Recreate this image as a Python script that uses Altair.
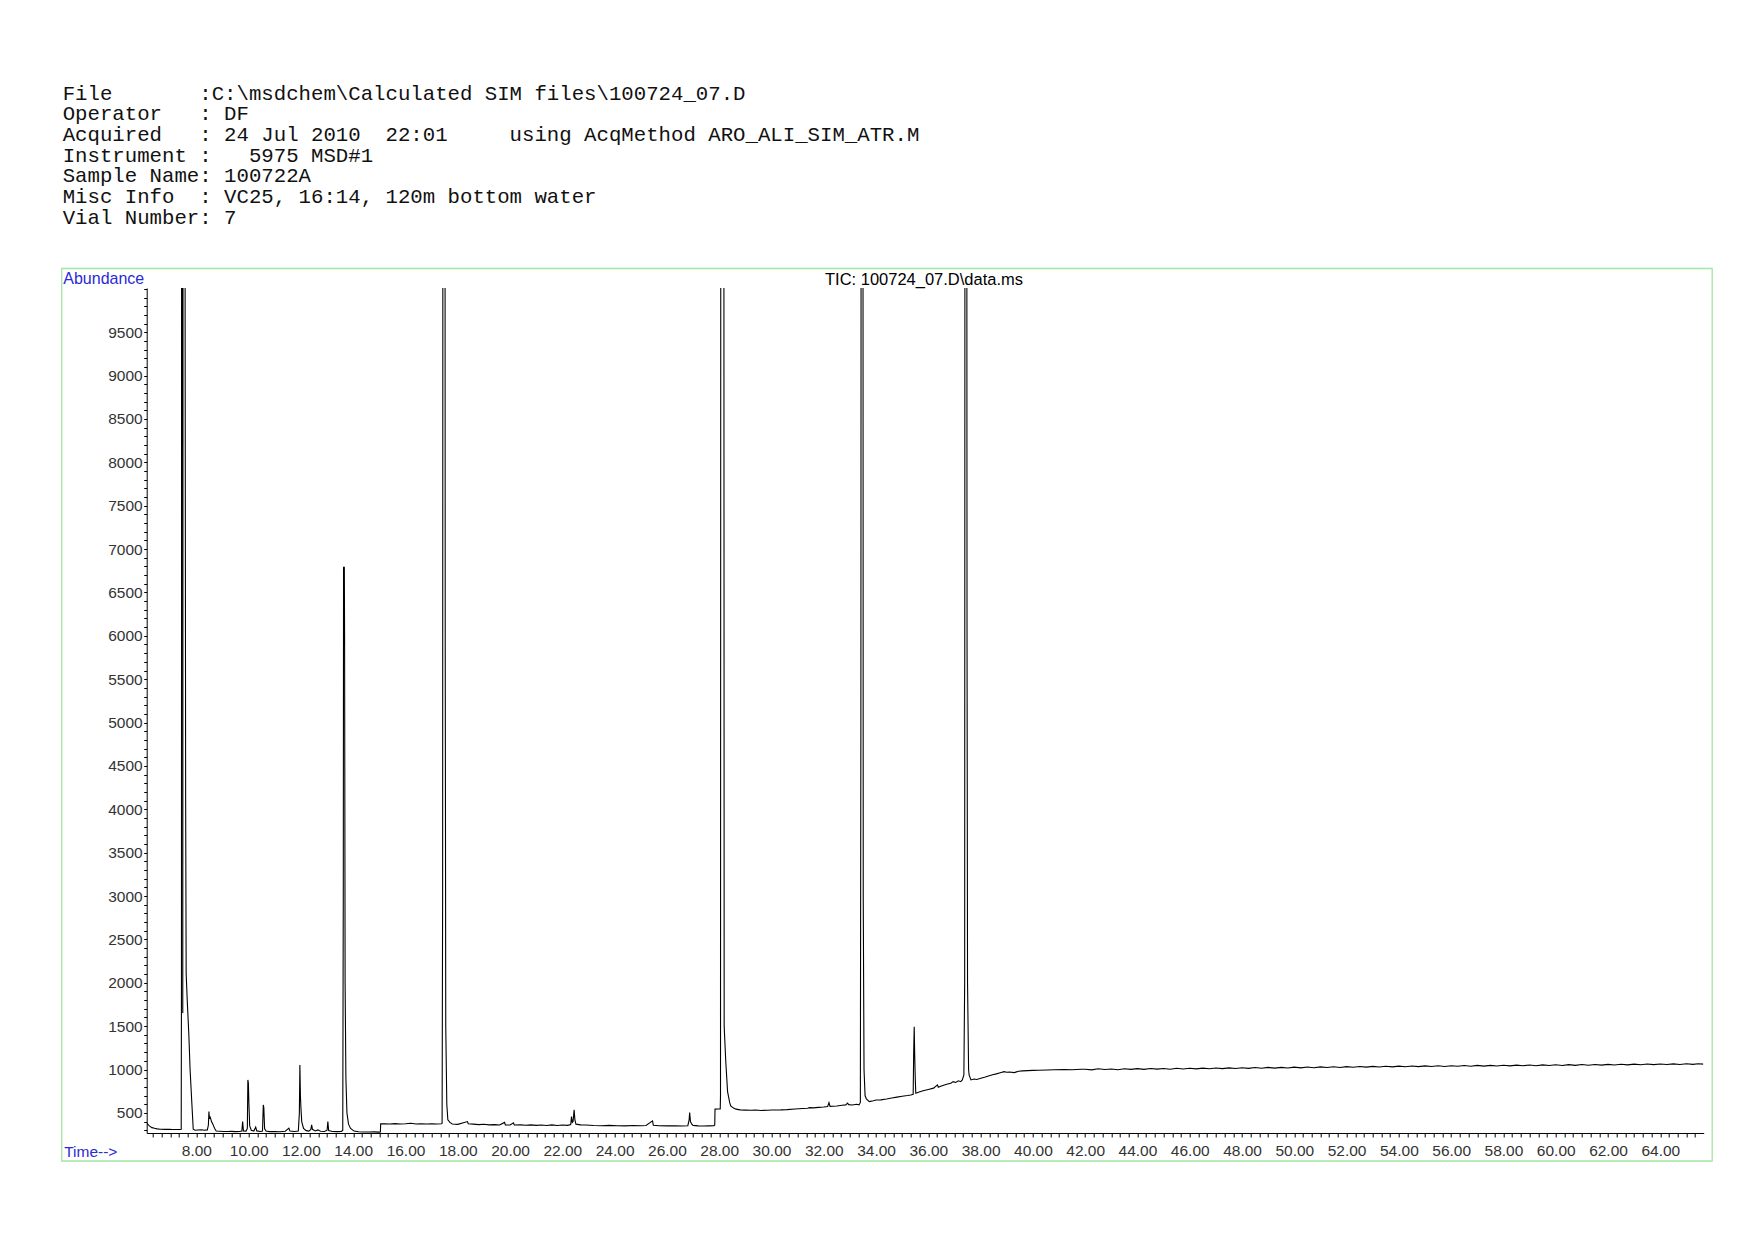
import altair as alt
import pandas as pd

# ---------------- header text ----------------
header_lines = [
    "File       :C:\\msdchem\\Calculated SIM files\\100724_07.D",
    "Operator   : DF",
    "Acquired   : 24 Jul 2010  22:01     using AcqMethod ARO_ALI_SIM_ATR.M",
    "Instrument :   5975 MSD#1",
    "Sample Name: 100722A",
    "Misc Info  : VC25, 16:14, 120m bottom water",
    "Vial Number: 7",
]
plot_title = "TIC: 100724_07.D\\data.ms"
y_label = "Abundance"
x_label = "Time-->"

# ---------------- chromatogram trace (time [min], abundance) ----------------
start_t = [6.10, 6.20, 6.30, 6.40, 6.50, 6.63, 6.80, 6.95, 7.10, 7.25, 7.38, 7.42]
start_v = [381, 350, 330, 322, 316, 312, 310, 312, 308, 309, 308, 310]

peak1_t = [7.43, 7.44, 7.47, 7.48, 7.50, 7.56, 7.57, 7.59, 7.61, 7.65, 7.71, 7.76, 7.82, 7.88, 7.95]
peak1_v = [2000, 20000, 20000, 1650, 20000, 20000, 9600, 4100, 2100, 1800, 1417, 1000, 650, 312, 300]

early_t = [8.05, 8.20, 8.30, 8.42, 8.46, 8.48, 8.50, 8.53, 8.58, 8.63, 8.70, 8.76, 8.90, 9.05,
           9.20, 9.35, 9.50, 9.65, 9.74, 9.77, 9.80, 9.90, 9.95, 9.97, 9.99, 10.01, 10.04, 10.10,
           10.20, 10.27, 10.31, 10.45, 10.53, 10.56, 10.58, 10.61, 10.66, 10.80, 11.00, 11.20,
           11.40, 11.54, 11.58, 11.75, 11.90, 11.94, 11.96, 11.98, 12.00, 12.03, 12.10, 12.20,
           12.30, 12.38, 12.41, 12.44, 12.55, 12.65, 12.75, 12.90, 13.00, 13.03, 13.06, 13.20,
           13.40, 13.55, 13.60]
early_v = [302, 305, 300, 304, 360, 515, 440, 450, 400, 370, 320, 290, 288, 286,
           285, 287, 284, 285, 290, 400, 292, 290, 320, 880, 840, 600, 350, 300,
           290, 335, 292, 285, 290, 592, 560, 320, 290, 284, 285, 283,
           288, 324, 290, 285, 290, 500, 1052, 700, 560, 400, 320, 295,
           290, 310, 362, 310, 292, 304, 288, 285, 300, 400, 295, 285,
           284, 286, 300]

peak2_t = [13.62, 13.63, 13.66, 13.67, 13.69, 13.72, 13.76, 13.82, 13.90, 14.03]
peak2_v = [3000, 6790, 6790, 6000, 2000, 900, 500, 370, 320, 290]

mid1_t = [14.20, 14.40, 14.60, 14.80, 14.98, 15.04, 15.05, 15.20, 15.40, 15.60, 15.80, 16.00,
          16.20, 16.40, 16.60, 16.80, 17.00, 17.20, 17.38]
mid1_v = [282, 280, 279, 281, 278, 280, 373, 375, 372, 376, 372, 374,
          380, 372, 374, 371, 373, 372, 375]

peak3_t = [17.40, 17.42, 17.44, 17.50, 17.52, 17.54, 17.58, 17.62, 17.70, 17.79]
peak3_v = [380, 3000, 20000, 20000, 5850, 1500, 600, 420, 390, 372]

mid2_t = [18.00, 18.37, 18.40, 18.60, 18.80, 19.00, 19.20, 19.40, 19.60, 19.79, 19.82, 20.00,
          20.13, 20.16, 20.40, 20.60, 20.80, 21.00, 21.20, 21.40, 21.60, 21.80, 22.00, 22.20,
          22.32, 22.35, 22.38, 22.41, 22.45, 22.48, 22.52, 22.70, 22.90, 23.20, 23.50, 23.80,
          24.10, 24.40, 24.70, 25.00, 25.20, 25.45, 25.48, 25.70, 26.00, 26.30, 26.60, 26.80,
          26.85, 26.87, 26.90, 26.95, 27.00, 27.20, 27.40, 27.60, 27.80, 27.83, 27.84, 27.95,
          28.04, 28.05]
mid2_v = [368, 400, 375, 370, 365, 368, 362, 365, 360, 390, 362, 360,
          385, 360, 362, 358, 362, 356, 360, 355, 362, 355, 360, 356,
          365, 457, 390, 400, 535, 420, 370, 362, 360, 355, 352, 356,
          352, 350, 354, 351, 355, 408, 358, 352, 350, 351, 348, 352,
          420, 504, 400, 370, 356, 350, 348, 350, 352, 360, 543, 545,
          545, 700]

peak4_t = [28.07, 28.17, 28.19, 28.25, 28.32, 28.40, 28.44, 28.55, 28.64]
peak4_v = [20000, 20000, 1500, 1100, 745, 620, 581, 555, 543]

mid3_t = [28.80, 29.00, 29.20, 29.40, 29.60, 29.85, 30.00, 30.36, 30.60, 30.90, 31.20, 31.38,
          31.45, 31.60, 31.80, 32.00, 32.15, 32.20, 32.24, 32.50, 32.70, 32.84, 32.91, 32.95,
          33.10, 33.25, 33.35, 33.40]
mid3_v = [535, 532, 530, 533, 528, 531, 533, 535, 538, 545, 550, 554,
          560, 558, 563, 568, 573, 619, 575, 580, 588, 592, 612, 595,
          590, 600, 592, 620]

peak5_t = [33.42, 33.44, 33.49, 33.51, 33.54, 33.58, 33.63, 33.74]
peak5_v = [5000, 20000, 20000, 3000, 1000, 700, 660, 630]

mid4_t = [33.90, 34.00, 34.18, 34.40, 34.60, 34.80, 35.00, 35.20, 35.33, 35.42, 35.44, 35.46,
          35.48, 35.50, 35.52, 35.65, 35.80, 36.00, 36.20, 36.35, 36.38, 36.50, 36.70, 36.86,
          36.95, 37.05, 37.15, 37.24, 37.30, 37.36]
mid4_v = [640, 648, 650, 660, 672, 682, 692, 700, 707, 715, 1200, 1493,
          1148, 900, 727, 740, 755, 770, 785, 822, 796, 810, 830, 842,
          860, 850, 870, 860, 880, 937]

peak6_t = [37.39, 37.41, 37.46, 37.48, 37.50, 37.54, 37.56, 37.63]
peak6_v = [2000, 20000, 20000, 6100, 2000, 1000, 937, 880]

rise_t = [37.75, 37.85, 38.01, 38.15, 38.30, 38.46, 38.60, 38.75, 38.90, 39.00, 39.10, 39.29,
          39.45, 39.60, 39.80, 40.00, 40.20, 40.56, 40.80, 41.20, 41.50, 41.84]
rise_v = [890, 885, 900, 910, 925, 940, 950, 962, 975, 968, 972, 964,
          980, 984, 987, 990, 992, 995, 997, 1000, 998, 1003]

tail_t = [42.00, 42.25, 42.50, 42.75, 43.00, 43.25, 43.50, 43.75, 44.00, 44.25, 44.50, 44.75,
          45.00, 45.25, 45.50, 45.75, 46.00, 46.25, 46.50, 46.75, 47.00, 47.25, 47.50, 47.75,
          48.00, 48.25, 48.50, 48.75, 49.00, 49.25, 49.50, 49.75, 50.00, 50.25, 50.50, 50.75,
          51.00, 51.25, 51.50, 51.75, 52.00, 52.25, 52.50, 52.75, 53.00, 53.25, 53.50, 53.75,
          54.00, 54.25, 54.50, 54.75, 55.00, 55.25, 55.50, 55.75, 56.00, 56.25, 56.50, 56.75,
          57.00, 57.25, 57.50, 57.75, 58.00, 58.25, 58.50, 58.75, 59.00, 59.25, 59.50, 59.75,
          60.00, 60.25, 60.50, 60.75, 61.00, 61.25, 61.50, 61.75, 62.00, 62.25, 62.50, 62.75,
          63.00, 63.25, 63.50, 63.75, 64.00, 64.25, 64.50, 64.75, 65.00, 65.25, 65.45, 65.64]
tail_v = [1003, 996, 1008, 1000, 1005, 997, 1009, 1002, 1010, 1001, 1011, 1004,
          1012, 1003, 1014, 1006, 1015, 1007, 1016, 1009, 1018, 1010, 1019, 1012,
          1021, 1013, 1023, 1015, 1024, 1016, 1025, 1018, 1027, 1019, 1029, 1021,
          1030, 1023, 1032, 1024, 1033, 1026, 1035, 1027, 1036, 1029, 1038, 1030,
          1039, 1031, 1040, 1033, 1042, 1034, 1043, 1035, 1044, 1037, 1046, 1038,
          1047, 1039, 1048, 1041, 1049, 1042, 1051, 1043, 1052, 1044, 1053, 1046,
          1054, 1047, 1056, 1048, 1057, 1049, 1058, 1051, 1059, 1052, 1061, 1053,
          1062, 1054, 1063, 1056, 1064, 1057, 1065, 1058, 1066, 1059, 1067, 1062]

times = (start_t + peak1_t + early_t + peak2_t + mid1_t + peak3_t + mid2_t + peak4_t
         + mid3_t + peak5_t + mid4_t + peak6_t + rise_t + tail_t)
abund = (start_v + peak1_v + early_v + peak2_v + mid1_v + peak3_v + mid2_v + peak4_v
         + mid3_v + peak5_v + mid4_v + peak6_v + rise_v + tail_v)

trace = pd.DataFrame({"time": times, "abundance": abund})

# axis tick positions
x_ticks = [round(8 + k / 3, 4) for k in range(-5, 173)]
y_ticks = list(range(300, 10001, 100))

X_DOMAIN = [6.10, 65.66]
Y_DOMAIN = [268, 10010]
W, H = 1557, 845

BLUE = "#2a2ad6"
GREEN = "#a3e6a3"
SANS = "Liberation Sans"

one = pd.DataFrame({"k": [0]})

line = alt.Chart(trace).mark_line(color="black", strokeWidth=1.1, clip=True).encode(
    x=alt.X(
        "time:Q",
        scale=alt.Scale(domain=X_DOMAIN, nice=False, zero=False),
        axis=alt.Axis(
            values=x_ticks,
            labelExpr="abs(datum.value/2 - round(datum.value/2)) < 0.001 ? format(datum.value, '.2f') : ''",
            title=None, grid=False, tickSize=4, labelPadding=7,
            labelFontSize=15.5, labelFont=SANS, labelColor="#333333",
            labelOverlap=False, labelFlush=False,
            domainColor="black", tickColor="black",
        ),
    ),
    y=alt.Y(
        "abundance:Q",
        scale=alt.Scale(domain=Y_DOMAIN, nice=False, zero=False),
        axis=alt.Axis(
            values=y_ticks,
            labelExpr="(datum.value % 500 == 0 && datum.value < 10000) ? datum.value : ''",
            title=None, grid=False, tickSize=3, labelPadding=1.5,
            labelFontSize=15.5, labelFont=SANS, labelColor="#333333",
            labelOverlap=False, labelFlush=False,
            domainColor="black", tickColor="black",
        ),
    ),
)

frame = alt.Chart(one).mark_rect(fillOpacity=0, stroke=GREEN, strokeWidth=1.3).encode(
    x=alt.value(-85), x2=alt.value(1565.5), y=alt.value(-19.5), y2=alt.value(873)
)

header = alt.Chart(one).mark_text(
    text=[s.replace(" ", "\u00a0") for s in header_lines],
    font="Liberation Mono", fontSize=20.7, lineHeight=20.7,
    align="left", baseline="alphabetic", color="#111111",
).encode(x=alt.value(-84), y=alt.value(-188.4))

abund_lbl = alt.Chart(one).mark_text(
    text=y_label, font=SANS, fontSize=16, align="left", baseline="alphabetic", color=BLUE
).encode(x=alt.value(-83.4), y=alt.value(-4))

tic_lbl = alt.Chart(one).mark_text(
    text=plot_title, font=SANS, fontSize=16.5, align="center", baseline="alphabetic", color="black"
).encode(x=alt.value(777.3), y=alt.value(-3))

time_lbl = alt.Chart(one).mark_text(
    text=x_label, font=SANS, fontSize=15.5, align="left", baseline="middle", color=BLUE
).encode(x=alt.value(-82.5), y=alt.value(864))

chart = alt.layer(frame, line, header, abund_lbl, tic_lbl, time_lbl).properties(
    width=W, height=H,
    autosize=alt.AutoSizeParams(type="none"),
    padding={"left": 138.7, "top": 280, "right": 30, "bottom": 40},
).configure_view(stroke=None)

chart.save("out.html", embed_options={"renderer": "svg", "actions": False})
